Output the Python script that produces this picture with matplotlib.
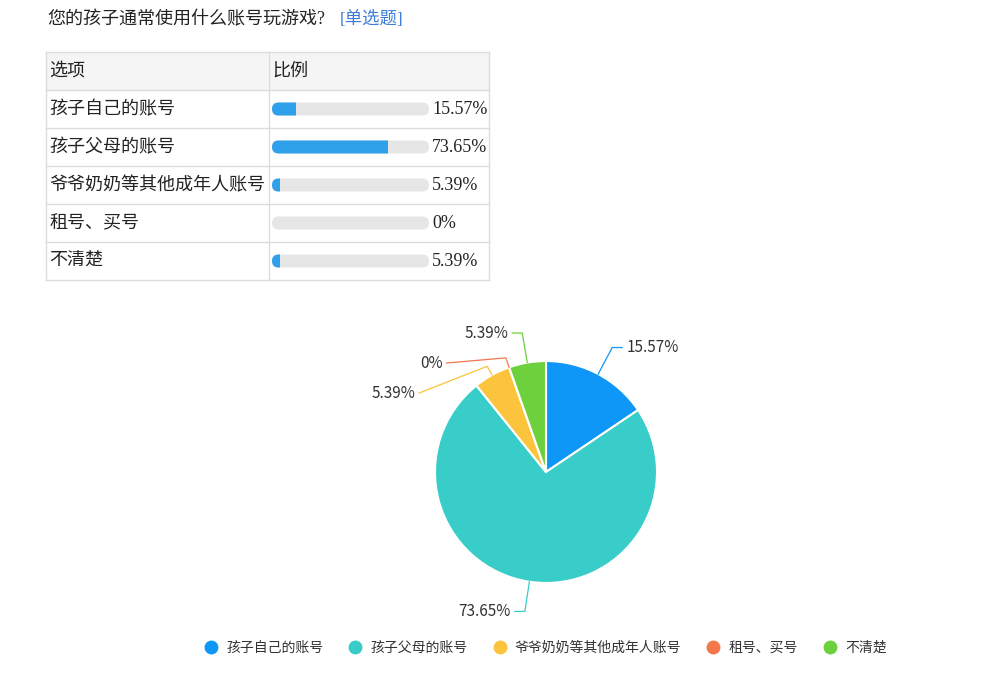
import matplotlib.pyplot as plt
from matplotlib.patches import FancyBboxPatch, Rectangle
from matplotlib.lines import Line2D
import numpy as np

plt.rcParams['font.family'] = ['Noto Sans CJK SC', 'DejaVu Sans']

title = '您的孩子通常使用什么账号玩游戏?'
tag = '[单选题]'
header = ['选项', '比例']
options = ['孩子自己的账号', '孩子父母的账号', '爷爷奶奶等其他成年人账号', '租号、买号', '不清楚']
shares = [15.57, 73.65, 5.39, 0, 5.39]
share_labels = ['15.57%', '73.65%', '5.39%', '0%', '5.39%']
pie_colors = ['#0f97f7', '#38cdc8', '#fbc43c', '#f4774c', '#6dd03d']

serif = ['Liberation Serif', 'Noto Sans CJK SC']

fig = plt.figure(figsize=(10, 6.93), dpi=100)
ax = fig.add_axes([0, 0, 1, 1])

# title
ax.text(47, 20, title, fontsize=13, family=serif, color='#222', va='center')
ax.text(340, 20, tag, fontsize=12.5, family=serif, color='#3b7dd8', va='center')

# table
left, mid, right = 46, 269, 489
top, row_h = 52, 38
grid = '#dcdcdc'
ax.add_patch(Rectangle((left, top), right - left, row_h, facecolor='#f5f5f5', edgecolor='none'))
n_rows = len(options) + 1
for i in range(n_rows + 1):
    ax.plot([left, right], [top + i * row_h] * 2, color=grid, lw=1)
for x in (left, mid, right):
    ax.plot([x, x], [top, top + n_rows * row_h], color=grid, lw=1)
ax.text(49, top + row_h / 2, header[0], fontsize=13, color='#222', va='center')
ax.text(272, top + row_h / 2, header[1], fontsize=13, color='#222', va='center')

track_x, track_w, track_h = 272, 157, 13
for i, (name, v, lab) in enumerate(zip(options, shares, share_labels)):
    yc = top + (i + 1.5) * row_h
    ax.text(49, yc, name, fontsize=13, color='#222', va='center')
    ax.add_patch(FancyBboxPatch((track_x, yc - track_h / 2), track_w, track_h,
                                boxstyle='round,pad=0,rounding_size=6.5',
                                facecolor='#e6e6e6', edgecolor='none'))
    fill = FancyBboxPatch((track_x, yc - track_h / 2), track_w, track_h,
                          boxstyle='round,pad=0,rounding_size=6.5',
                          facecolor='#2fa0ea', edgecolor='none')
    ax.add_patch(fill)
    clip = Rectangle((track_x, yc - track_h), track_w * v / 100, track_h * 2,
                     transform=ax.transData)
    fill.set_clip_path(clip)
    ax.text(432, yc, lab, fontsize=13, family=serif, color='#222', va='center')

# pie (y axis is inverted, so counterclock in data = clockwise on screen)
cx, cy, r = 546, 472, 111
wedges, _ = ax.pie(shares, colors=pie_colors, startangle=-90, counterclock=True,
                   center=(cx, cy), radius=r, frame=True,
                   wedgeprops=dict(edgecolor='white', linewidth=1.5))

# label lines: push overlapping labels down, keep them on the outer circle
L1, L2, gap = 30, 10, 30
R = r + L1
items = []
for w, lab, col in zip(wedges, share_labels, pie_colors):
    m = np.deg2rad((w.theta1 + w.theta2) / 2)
    items.append(dict(m=m, ey=cy + r * np.sin(m), ex=cx + r * np.cos(m),
                      y=cy + R * np.sin(m), side=1 if np.cos(m) >= 0 else -1,
                      lab=lab, col=col, moved=False))
for side in (1, -1):
    group = sorted([it for it in items if it['side'] == side], key=lambda it: it['y'])
    prev = None
    for it in group:
        if prev is not None and it['y'] < prev + gap:
            it['y'] = prev + gap
            it['moved'] = True
        prev = it['y']
for it in items:
    s, m = it['side'], it['m']
    dy = min(abs(it['y'] - cy), R)
    bx = cx + s * np.sqrt(R ** 2 - dy ** 2)
    if it['moved']:
        px, py = cx + (r + 10) * np.cos(m), cy + (r + 10) * np.sin(m)
        xs = [it['ex'], px, bx + s * L2]
        ys = [it['ey'], py, it['y']]
    else:
        xs = [it['ex'], bx, bx + s * L2]
        ys = [it['ey'], it['y'], it['y']]
    ax.plot(xs, ys, color=it['col'], lw=0.9)
    ax.text(bx + s * (L2 + 4), it['y'], it['lab'], fontsize=11, color='#333',
            family=['Noto Sans CJK SC'],
            ha='left' if s > 0 else 'right', va='center')

ax.set_xlim(0, 1000)
ax.set_ylim(693, 0)
ax.set_aspect('auto')
ax.axis('off')

handles = [Line2D([], [], marker='o', linestyle='none', markersize=9,
                  markerfacecolor=c, markeredgecolor=c) for c in pie_colors]
leg = fig.legend(handles, options, loc='center', bbox_to_anchor=(0.546, 1 - 648 / 693),
                 ncol=5, frameon=False, fontsize=10, handlelength=0.8,
                 handletextpad=0.7, columnspacing=1.9)
for t in leg.get_texts():
    t.set_color('#333')

fig.savefig('out.png', dpi=100, facecolor='white')
